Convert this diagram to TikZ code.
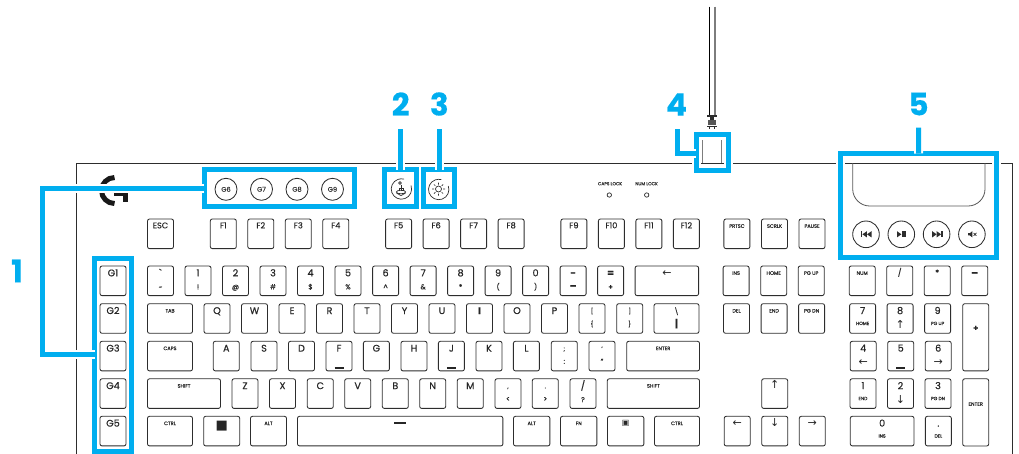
\documentclass[tikz,border=0pt]{standalone}
\usepackage{fontspec}
\setmainfont{Poppins}[FakeBold=0.45]
\newfontfamily\symfont{DejaVu Sans}
\usetikzlibrary{positioning}
\definecolor{callblue}{RGB}{0,174,239}
\definecolor{keyline}{RGB}{45,45,45}
\definecolor{cablegray}{RGB}{125,125,125}
\newcommand{\arw}[1]{{\symfont #1}}
\newcommand{\keypair}[2]{\makebox[0pt]{#1}\raisebox{-13pt}{\makebox[0pt]{\fontsize{7}{7}\selectfont #2}}}
\newcommand{\padpair}[2]{\makebox[0pt]{#1}\raisebox{-11pt}{\makebox[0pt]{\fontsize{4.6}{5}\selectfont #2}}}
\newcommand{\padarrow}[2]{\makebox[0pt]{#1}\raisebox{-14pt}{\makebox[0pt]{\fontsize{11}{11}\selectfont\arw{#2}}}}
\newcommand{\keybar}[1]{\makebox[0pt]{#1}\raisebox{-17pt}{\makebox[0pt]{\rule{9pt}{1.3pt}}}}

\begin{document}
\begin{tikzpicture}[x=1pt,y=-1pt,
  keycap/.style={draw=keyline,line width=.85pt,rounded corners=2pt,inner sep=0pt,outer sep=0pt,anchor=north west,minimum width=26pt,minimum height=29.6pt,text height=10.3pt,text depth=19.3pt,text=black!85,font=\fontsize{9.6}{10}\selectfont},
  fncap/.style={keycap,text height=9.3pt,text depth=20.3pt,font=\fontsize{8.2}{9}\selectfont},
  smallcap/.style={keycap,text height=8.8pt,text depth=20.8pt,font=\fontsize{5}{6}\selectfont},
  lowcap/.style={keycap,text height=9.5pt,text depth=20.1pt,font=\fontsize{6}{7}\selectfont},
  arrowcap/.style={keycap,text height=10pt,text depth=19.6pt,font=\fontsize{11}{11}\selectfont\symfont},
  roundcap/.style={draw=keyline,line width=.85pt,circle,inner sep=0pt,outer sep=0pt,minimum size=22pt,font=\fontsize{6.6}{7}\selectfont,text=black!80},
  mediacap/.style={draw=keyline,line width=.85pt,circle,inner sep=0pt,outer sep=0pt,minimum size=26.6pt},
  callout/.style={draw=callblue,line width=5pt,inner sep=0pt,outer sep=0pt,preaction={draw=white,line width=9pt}},
  leader/.style={draw=callblue,line width=5pt,preaction={draw=white,line width=9pt}},
  callnum/.style={inner sep=0pt,text=callblue,font=\fontsize{31}{31}\selectfont\bfseries},
  shell/.style={draw=keyline,line width=.9pt},
  iconline/.style={draw=keyline,line width=.7pt}
]
\useasboundingbox (0,0) rectangle (1019,453);
\draw[shell] (76,460) -- (76,163) -- (1012.3,163) -- (1012.3,460);
\draw[black!90,line width=5pt] (114.5,177.5) arc[start angle=-90,end angle=-270,radius=13];
\fill[black!90] (114,193) rectangle (127.7,195.5);
\fill[black!90] (123,193) rectangle (127.7,201.7);

\node[callnum] (num1) at (17,271) {1};
\node[callnum] (num2) at (400.7,104) {2};
\node[callnum] (num3) at (439.3,104) {3};
\node[callnum] (num4) at (676.5,104.5) {4};
\node[callnum] (num5) at (918.5,104) {5};

\node[callout,minimum width=150pt,minimum height=36.8pt] (boxtop) at (279.2,188.1) {};
\node[callout,minimum width=36.5pt,minimum height=193.5pt] (boxside) at (113.2,354.8) {};
\node[callout,minimum width=31.7pt,minimum height=36.5pt] (boxmode) at (400.7,188) {};
\node[callout,minimum width=31.3pt,minimum height=36.5pt] (boxlight) at (439.2,188) {};
\node[callout,minimum width=31.7pt,minimum height=36.3pt] (boxusb) at (712.3,152.7) {};
\node[callout,minimum width=155.7pt,minimum height=104pt] (boxmedia) at (918.65,205.5) {};

\coordinate (bendtop) at (42.5,188.1);
\coordinate (bendlow) at (42.5,354.8);
\coordinate (tipmode) at (400.7,129.3);
\coordinate (tiplight) at (439.2,129.3);
\coordinate (tipusb) at (677.7,129.3);
\coordinate (bendusb) at (677.7,153);
\coordinate (tipmedia) at (918.5,127.7);
\draw[leader] (boxtop.west) -- (bendtop) -- (bendlow) -- (boxside.west |- bendlow);
\draw[leader] (tipmode) -- (boxmode.north);
\draw[leader] (tiplight) -- (boxlight.north);
\draw[leader] (tipusb) -- (bendusb) -- (boxusb.west |- bendusb);
\draw[leader] (tipmedia) -- (boxmedia.north);

\node[inner sep=0pt,minimum width=9.4pt,minimum height=14pt] (plug) at (712,122) {};
\coordinate (cableleft) at (709.3,6.7);
\coordinate (cableright) at (715,6.7);
\draw[black,line width=.8pt] (cableleft) -- (plug.north -| cableleft);
\draw[cablegray,line width=1.6pt] (cableright) -- (plug.north -| cableright);
\fill[keyline] (707.3,115) rectangle (716.7,116.6);
\fill[keyline] (710,116.6) rectangle (714,119.5);
\fill[keyline!80] (707.6,119.5) rectangle (716.4,124.6);
\fill[keyline] (707.3,125.6) rectangle (716.7,126.8);
\fill[keyline] (709,126.8) rectangle (710.2,128.6);
\fill[keyline] (713.8,126.8) rectangle (715,128.6);
\draw[cablegray,line width=.8pt] (702.3,140) -- (702.3,163);
\draw[cablegray,line width=.8pt] (721.7,140) -- (721.7,163);

\draw[cablegray!70!black,line width=.8pt] (852.7,163) -- (852.7,189) arc[start angle=180,end angle=90,radius=17] -- (968,206) arc[start angle=90,end angle=0,radius=17] -- (985,163);

\node[roundcap] (g6) at (226,189.3) {G6};
\node[roundcap,right=13.5pt of g6] (g7) {G7};
\node[roundcap,right=13.5pt of g7] (g8) {G8};
\node[roundcap,right=13.5pt of g8] (g9) {G9};

\draw[iconline] (411,185.5) arc[start angle=-20,end angle=285,radius=10.2];
\draw[iconline] (401,184.5) -- (401,191);
\draw[iconline] (400,183) circle[radius=1.4];
\draw[iconline] (399,191) -- (399,188.5) -- (403,188.5) -- (403,191);
\draw[iconline] (401,192) ellipse[x radius=4.6,y radius=1.8];
\draw[iconline] (396.4,193) -- (401,195.6) -- (405.6,193);
\draw[iconline] (448.3,186) arc[start angle=-20,end angle=285,radius=10.2];
\draw[iconline] (438.5,189) circle[radius=3];
\draw[iconline] (438.5,182.5) -- (438.5,184.5) (438.5,193.5) -- (438.5,195.5) (432,189) -- (434,189) (443,189) -- (445,189) (433.9,184.4) -- (435.3,185.8) (441.7,192.2) -- (443.1,193.6) (433.9,193.6) -- (435.3,192.2) (441.7,185.8) -- (443.1,184.4);

\node[inner sep=0pt,font=\fontsize{4.4}{5}\selectfont,text=black!80] (capslabel) at (610,183.7) {CAPS LOCK};
\node[inner sep=0pt,font=\fontsize{4.4}{5}\selectfont,text=black!80] (numlabel) at (646.5,183.7) {NUM LOCK};
\node[draw=keyline,line width=.7pt,circle,inner sep=0pt,minimum size=4.4pt] (capsled) at (609.3,195) {};
\node[draw=keyline,line width=.7pt,circle,inner sep=0pt,minimum size=4.4pt] (numled) at (646.7,195) {};

\node[mediacap] (prevkey) at (866,234.3) {};
\node[mediacap,right=8.7pt of prevkey] (playkey) {};
\node[mediacap,right=8.7pt of playkey] (nextkey) {};
\node[mediacap,right=8.7pt of nextkey] (mutekey) {};
\fill[keyline] (861,231.2) rectangle (862.3,237.4);
\fill[keyline] (862.4,234.3) -- (866.9,231.2) -- (866.9,237.4) -- cycle;
\fill[keyline] (867,234.3) -- (871.5,231.2) -- (871.5,237.4) -- cycle;
\fill[keyline] (897,231.2) -- (901.4,234.3) -- (897,237.4) -- cycle;
\fill[keyline] (902,231.2) rectangle (905.7,237.4);
\fill[keyline] (932.2,231.2) -- (936.6,234.3) -- (932.2,237.4) -- cycle;
\fill[keyline] (936.7,231.2) -- (941.1,234.3) -- (936.7,237.4) -- cycle;
\fill[keyline] (941.2,231.2) rectangle (942.5,237.4);
\fill[keyline] (968.2,233.2) -- (969.8,233.2) -- (972.3,231.2) -- (972.3,237.4) -- (969.8,235.4) -- (968.2,235.4) -- cycle;
\draw[keyline,line width=.7pt] (973.6,232.9) -- (976.4,235.7) (973.6,235.7) -- (976.4,232.9);

\node[keycap,at={(100,266)}] (g1) {G1};
\node[keycap,at={(100,303.7)}] (g2) {G2};
\node[keycap,at={(100,341.3)}] (g3) {G3};
\node[keycap,at={(100,378.8)}] (g4) {G4};
\node[keycap,at={(100,416.3)}] (g5) {G5};

\node[fncap,at={(147.5,219)}] (esc) {ESC};
\node[fncap,right=36.8pt of esc] (f1) {F1};
\node[fncap,right=11.5pt of f1] (f2) {F2};
\node[fncap,right=11.5pt of f2] (f3) {F3};
\node[fncap,right=11.5pt of f3] (f4) {F4};
\node[fncap,right=36.8pt of f4] (f5) {F5};
\node[fncap,right=11.5pt of f5] (f6) {F6};
\node[fncap,right=11.5pt of f6] (f7) {F7};
\node[fncap,right=11.5pt of f7] (f8) {F8};
\node[fncap,right=36.8pt of f8] (f9) {F9};
\node[fncap,right=11.5pt of f9] (f10) {F10};
\node[fncap,right=11.5pt of f10] (f11) {F11};
\node[fncap,right=11.5pt of f11] (f12) {F12};
\node[smallcap,right=24.5pt of f12] (prtsc) {PRTSC};
\node[smallcap,right=11.6pt of prtsc] (scrlk) {SCRLK};
\node[smallcap,right=11.5pt of scrlk] (pause) {PAUSE};

\node[keycap,at={(147.5,266)}] (tilde) {\keypair{\textasciigrave}{\textasciitilde}};
\node[keycap,right=11.5pt of tilde] (k1) {\keypair{1}{!}};
\node[keycap,right=11.5pt of k1] (k2) {\keypair{2}{@}};
\node[keycap,right=11.5pt of k2] (k3) {\keypair{3}{\#}};
\node[keycap,right=11.5pt of k3] (k4) {\keypair{4}{\$}};
\node[keycap,right=11.5pt of k4] (k5) {\keypair{5}{\%}};
\node[keycap,right=11.6pt of k5] (k6) {\keypair{6}{\^{}}};
\node[keycap,right=11.5pt of k6] (k7) {\keypair{7}{\&}};
\node[keycap,right=11.5pt of k7] (k8) {\keypair{8}{*}};
\node[keycap,right=11.5pt of k8] (k9) {\keypair{9}{(}};
\node[keycap,right=11.5pt of k9] (k0) {\keypair{0}{)}};
\node[keycap,right=11.5pt of k0,font=\fontsize{9.6}{10}\selectfont\bfseries] (minus) {\keypair{-}{\bfseries\fontsize{10}{10}\selectfont --}};
\node[keycap,right=11.5pt of minus,font=\fontsize{9.6}{10}\selectfont\bfseries] (equal) {\keypair{=}{+}};
\node[arrowcap,right=11.5pt of equal,minimum width=63.5pt] (back) {←};
\node[smallcap,right=24.5pt of back] (ins) {INS};
\node[smallcap,right=11.6pt of ins] (home) {HOME};
\node[smallcap,right=11.5pt of home] (pgup) {PG UP};
\node[smallcap,right=25pt of pgup] (numkey) {NUM};
\node[lowcap,right=11.5pt of numkey,font=\fontsize{8}{8}\selectfont] (slash) {/};
\node[lowcap,right=11.5pt of slash,font=\fontsize{8}{8}\selectfont] (star) {*};
\node[keycap,right=11.5pt of star,font=\fontsize{10}{10}\selectfont\bfseries] (padminus) {--};

\node[smallcap,at={(147.5,303.7)},minimum width=45pt] (tab) {TAB};
\node[keycap,right=11.5pt of tab] (q) {Q};
\node[keycap,right=11.5pt of q] (w) {W};
\node[keycap,right=11.5pt of w] (e) {E};
\node[keycap,right=11.5pt of e] (r) {R};
\node[keycap,right=11.5pt of r] (t) {T};
\node[keycap,right=11.5pt of t] (y) {Y};
\node[keycap,right=11.5pt of y] (u) {U};
\node[keycap,right=11.5pt of u,font=\fontsize{9.6}{10}\selectfont\bfseries] (i) {I};
\node[keycap,right=11.5pt of i] (o) {O};
\node[keycap,right=11.5pt of o] (p) {P};
\node[lowcap,right=11.5pt of p] (lbrack) {\keypair{[}{\fontsize{6}{7}\selectfont\{}};
\node[lowcap,right=11.7pt of lbrack] (rbrack) {\keypair{]}{\fontsize{6}{7}\selectfont\}}};
\node[keycap,right=11.3pt of rbrack,minimum width=45pt] (bslash) {\keypair{\fontsize{7}{7}\selectfont\textbackslash}{\bfseries\fontsize{10}{10}\selectfont |}};
\node[smallcap,right=24.5pt of bslash] (del) {DEL};
\node[smallcap,right=11.6pt of del] (endkey) {END};
\node[smallcap,right=11.5pt of endkey] (pgdn) {PG DN};
\node[keycap,right=25pt of pgdn] (pad7) {\padpair{7}{HOME}};
\node[keycap,right=11.5pt of pad7] (pad8) {\padarrow{8}{↑}};
\node[keycap,right=11.5pt of pad8] (pad9) {\padpair{9}{PG UP}};
\node[keycap,at={(962.7,303.7)},minimum height=67.2pt,text height=27pt,text depth=40.2pt,font=\fontsize{8}{8}\selectfont\bfseries] (padplus) {+};

\node[smallcap,at={(147.5,341.3)},minimum width=45pt] (caps) {CAPS};
\node[keycap,right=20.8pt of caps] (a) {A};
\node[keycap,right=11.7pt of a] (s) {S};
\node[keycap,right=11.5pt of s] (d) {D};
\node[keycap,right=11.5pt of d] (f) {\keybar{F}};
\node[keycap,right=11.4pt of f] (g) {G};
\node[keycap,right=11.6pt of g] (h) {H};
\node[keycap,right=11.4pt of h] (j) {\keybar{J}};
\node[keycap,right=11.6pt of j] (k) {K};
\node[keycap,right=11.4pt of k] (l) {L};
\node[lowcap,right=11.9pt of l] (semi) {\keypair{;}{:}};
\node[lowcap,right=11.7pt of semi] (quote) {\keypair{'}{"}};
\node[smallcap,right=11.7pt of quote,minimum width=72.8pt] (enter) {ENTER};
\node[keycap,right=150.7pt of enter] (pad4) {\padarrow{4}{←}};
\node[keycap,right=11.5pt of pad4] (pad5) {\keybar{5}};
\node[keycap,right=11.5pt of pad5] (pad6) {\padarrow{6}{→}};

\node[smallcap,at={(147.5,378.8)},minimum width=73pt] (lshift) {SHIFT};
\node[keycap,right=11.5pt of lshift] (z) {Z};
\node[keycap,right=11.5pt of z] (x) {X};
\node[keycap,right=11.8pt of x] (c) {C};
\node[keycap,right=11.4pt of c] (v) {V};
\node[keycap,right=11.6pt of v] (b) {B};
\node[keycap,right=11.4pt of b] (n) {N};
\node[keycap,right=11.6pt of n] (m) {M};
\node[lowcap,right=11.7pt of m] (comma) {\keypair{,}{<}};
\node[lowcap,right=11.3pt of comma] (period) {\keypair{.}{>}};
\node[keycap,right=11.7pt of period] (qmark) {\keypair{/}{?}};
\node[smallcap,right=11.3pt of qmark,minimum width=92.2pt] (rshift) {SHIFT};
\node[arrowcap,right=62.2pt of rshift] (up) {↑};
\node[keycap,right=62.3pt of up] (pad1) {\padpair{1}{END}};
\node[keycap,right=11.5pt of pad1] (pad2) {\padarrow{2}{↓}};
\node[keycap,right=11.5pt of pad2] (pad3) {\padpair{3}{PG DN}};
\node[smallcap,at={(962.7,378.8)},minimum height=67.2pt,text height=27pt,text depth=40.2pt] (padenter) {ENTER};

\node[smallcap,at={(147.5,416.3)},minimum width=45pt] (lctrl) {CTRL};
\node[keycap,right=11.2pt of lctrl,minimum width=36pt,text height=13pt,text depth=16.6pt,font=\fontsize{13}{13}\selectfont\symfont] (winkey) {■};
\node[smallcap,right=10.8pt of winkey,minimum width=36pt] (lalt) {ALT};
\node[keycap,right=11pt of lalt,minimum width=205.4pt,text height=7.4pt,text depth=22.2pt] (space) {\rule{12pt}{1.3pt}};
\node[smallcap,right=10.6pt of space,minimum width=36.4pt] (ralt) {ALT};
\node[smallcap,right=10.6pt of ralt,minimum width=36.4pt] (fnkey) {FN};
\node[lowcap,right=10.6pt of fnkey,minimum width=36.4pt,font=\fontsize{8}{8}\selectfont\symfont] (menu) {▣};
\node[smallcap,right=10.6pt of menu,minimum width=45pt] (rctrl) {CTRL};
\node[arrowcap,right=24.7pt of rctrl] (left) {←};
\node[arrowcap,right=11.6pt of left] (down) {↓};
\node[arrowcap,right=11.5pt of down] (right) {→};
\node[keycap,right=25pt of right,minimum width=63.7pt] (pad0) {\padpair{0}{INS}};
\node[keycap,right=11.4pt of pad0] (paddot) {\padpair{.}{DEL}};
\end{tikzpicture}
\end{document}
